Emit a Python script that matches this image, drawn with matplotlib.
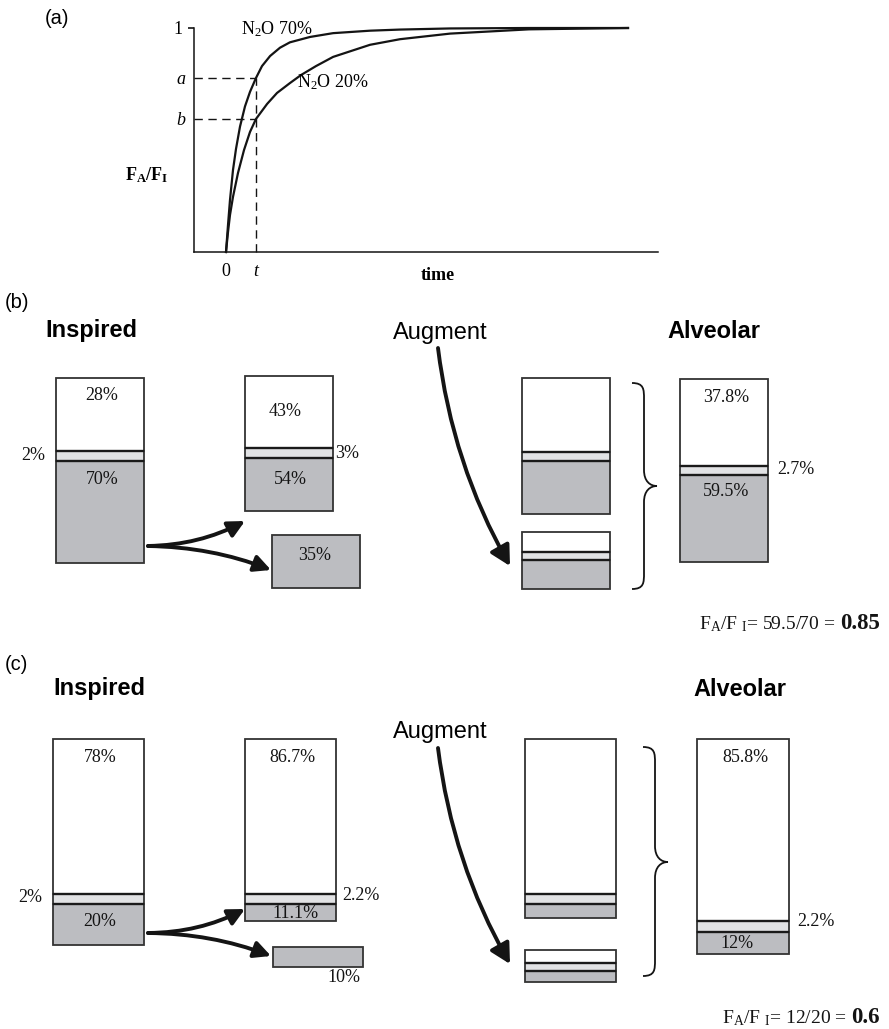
import matplotlib
matplotlib.use('Agg')
import matplotlib.pyplot as plt
from matplotlib.patches import FancyArrowPatch, PathPatch
from matplotlib.path import Path

# ---------------- data ----------------
# panel (a): uptake curves F_A/F_I vs time (time in units of t)
time_70 = [0, 0.067, 0.133, 0.233, 0.333, 0.467, 0.633, 0.8, 1.0, 1.2, 1.47, 1.8,
           2.13, 2.8, 3.57, 4.8, 5.8, 7.47, 10.1, 13.4]
ratio_70 = [0, 0.121, 0.232, 0.366, 0.46, 0.56, 0.65, 0.715, 0.777, 0.83, 0.875, 0.912,
            0.936, 0.96, 0.977, 0.988, 0.993, 0.998, 1.0, 1.0]
time_20 = [0, 0.067, 0.133, 0.233, 0.4, 0.6, 0.8, 1.0, 1.37, 1.7, 2.13, 2.5, 3.0, 3.57,
           4.8, 5.8, 7.47, 10.1, 13.4]
ratio_20 = [0, 0.089, 0.165, 0.246, 0.353, 0.455, 0.536, 0.594, 0.661, 0.71, 0.754,
            0.79, 0.83, 0.871, 0.925, 0.95, 0.975, 0.994, 1.0]
level_a = 0.777
level_b = 0.594
time_t = 1.0
curve_labels = [r"N$_\mathrm{2}$O 70%", r"N$_\mathrm{2}$O 20%"]

# stacked boxes: segments are [O2 (white), agent (light), N2O (dark)]
b_inspired_pct = ["28%", "2%", "70%"]
b_inspired_seg = [73, 10, 102]
b_after_pct = ["43%", "3%", "54%"]
b_after_seg = [72, 10, 53]
b_uptake_pct = ["35%"]
b_uptake_seg = [53]
b_aug_top_seg = [74, 9, 53]
b_aug_small_seg = [20, 8, 29]
b_alveolar_pct = ["37.8%", "2.7%", "59.5%"]
b_alveolar_seg = [87, 9, 87]
b_formula = (r"F$_\mathrm{A}$/F $_\mathrm{I}$= 59.5/70 =", "0.85")

c_inspired_pct = ["78%", "2%", "20%"]
c_inspired_seg = [155, 10, 41]
c_after_pct = ["86.7%", "2.2%", "11.1%"]
c_after_seg = [155, 10, 17]
c_uptake_pct = ["10%"]
c_uptake_seg = [20]
c_aug_top_seg = [155, 10, 14]
c_aug_small_seg = [13, 8, 11]
c_alveolar_pct = ["85.8%", "2.2%", "12%"]
c_alveolar_seg = [182, 11, 22]
c_formula = (r"F$_\mathrm{A}$/F $_\mathrm{I}$= 12/20 =", "0.6")

# ---------------- style ----------------
plt.rcParams['font.family'] = ['Liberation Serif', 'DejaVu Serif']
plt.rcParams['mathtext.fontset'] = 'custom'
plt.rcParams['mathtext.rm'] = 'Liberation Serif'
plt.rcParams['mathtext.it'] = 'Liberation Serif:italic'
plt.rcParams['mathtext.bf'] = 'Liberation Serif:bold'
SANS = ['Liberation Sans', 'DejaVu Sans']
SEG_COLORS = ['#ffffff', '#e1e2e4', '#bcbdc1']
EDGE = '#333333'
INK = '#141414'

W, H = 889, 1029
fig = plt.figure(figsize=(W / 100, H / 100), dpi=100)
ov = fig.add_axes([0, 0, 1, 1])
ov.set_xlim(0, W)
ov.set_ylim(H, 0)
ov.axis('off')

# ---------------- panel (a) ----------------
axa = fig.add_axes([194 / W, (H - 252) / H, 464 / W, 224 / H])
axa.set_facecolor('none')
axa.set_xlim(-32 / 30, 432 / 30)
axa.set_ylim(0, 1)
for s in ['top', 'right']:
    axa.spines[s].set_visible(False)
for s in ['left', 'bottom']:
    axa.spines[s].set_linewidth(1.1)
    axa.spines[s].set_color(INK)
axa.plot(time_70, ratio_70, color=INK, lw=1.6, clip_on=False, solid_joinstyle='round')
axa.plot(time_20, ratio_20, color=INK, lw=1.6, clip_on=False, solid_joinstyle='round')
x0 = axa.get_xlim()[0]
dash = dict(color=INK, lw=1.0, linestyle=(0, (6, 4)), clip_on=False)
axa.plot([x0, time_t], [level_a, level_a], **dash)
axa.plot([x0, time_t], [level_b, level_b], **dash)
axa.plot([time_t, time_t], [0, level_a], **dash)

axa.set_yticks([1])
axa.set_yticklabels(['1'])
axa.set_yticks([level_b, level_a], minor=True)
axa.set_yticklabels(['b', 'a'], minor=True, fontstyle='italic')
axa.tick_params(axis='y', which='major', length=4.3, width=1.1, pad=4.0, labelsize=13)
axa.tick_params(axis='y', which='minor', length=0, pad=6.5, labelsize=13)
axa.set_xticks([0, time_t])
axa.set_xticklabels(['0', 't'])
axa.get_xticklabels()[1].set_fontstyle('italic')
axa.tick_params(axis='x', length=0, pad=8, labelsize=13)
axa.set_ylabel(r'$\mathbf{F}_\mathbf{A}\mathbf{/F}_\mathbf{I}$', rotation=0,
               fontsize=13, va='center', ha='center')
axa.yaxis.set_label_coords((147 - 194) / 464, (252 - 175) / 224)
axa.set_xlabel('time', fontweight='bold', fontsize=13, va='center')
axa.xaxis.set_label_coords((438 - 194) / 464, (252 - 275) / 224)
axa.text(0.5, 0.996, curve_labels[0], fontsize=13, va='center', ha='left')
axa.text(2.37, 0.759, curve_labels[1], fontsize=13, va='center', ha='left')

ov.text(45, 18, '(a)', fontsize=14.5, family=SANS, va='center', ha='left')


# ---------------- helpers ----------------
def stack(left, top, width, segs, colors=SEG_COLORS):
    y = top
    for i, (h, c) in enumerate(zip(segs, colors)):
        ov.bar([left], [h], bottom=[y], width=width, align='edge', color=c,
               edgecolor=EDGE, linewidth=1.3, zorder=2)
        if i > 0:
            ov.hlines(y, left, left + width, color='#1a1a1a', lw=1.7, zorder=2.5)
        y += h


def label(x, y, s, ha='center', size=13):
    ov.text(x, y, s, fontsize=size, ha=ha, va='center', zorder=4, color=INK)


def arrow(p0, p1, rad, hl, hw, lw):
    ap = FancyArrowPatch(p0, p1, connectionstyle=f'arc3,rad={rad}',
                         arrowstyle=f'-|>,head_length={hl},head_width={hw}',
                         mutation_scale=20, lw=lw, color=INK,
                         shrinkA=0, shrinkB=0, zorder=3)
    ov.add_patch(ap)


def brace(x0, x1, y0, y1, ym):
    xm = x0 + 12
    r = 16
    M, L, C = Path.MOVETO, Path.LINETO, Path.CURVE4
    verts = [(x0, y0), (xm, y0), (xm, y0 + r * 0.4), (xm, y0 + r),
             (xm, ym - r),
             (xm, ym - r * 0.3), (x1 - 7, ym), (x1, ym),
             (x1 - 7, ym), (xm, ym + r * 0.3), (xm, ym + r),
             (xm, y1 - r),
             (xm, y1 - r * 0.4), (xm, y1), (x0, y1)]
    codes = [M, C, C, C, L, C, C, C, C, C, C, L, C, C, C]
    ov.add_patch(PathPatch(Path(verts, codes), fill=False, lw=1.3, edgecolor=INK))


renderer = fig.canvas.get_renderer()


def formula(parts, right, baseline):
    bold = ov.text(right, baseline, parts[1], fontsize=16.5, fontweight='bold',
                   ha='right', va='baseline', color=INK)
    bb = bold.get_window_extent(renderer=renderer)
    left_px = bb.x0 - 5
    ov.text(left_px, baseline, parts[0], fontsize=14, ha='right', va='baseline', color=INK)


# ---------------- panel (b) ----------------
ov.text(5, 302, '(b)', fontsize=14.5, family=SANS, va='center', ha='left')
ov.text(45, 330, 'Inspired', fontsize=17, family=SANS, fontweight='bold', va='center')
ov.text(393, 333, 'Augment', fontsize=17, family=SANS, va='center')
ov.text(667, 331, 'Alveolar', fontsize=17, family=SANS, fontweight='bold', va='center')

stack(56, 378, 88, b_inspired_seg)
stack(245, 376, 88, b_after_seg)
stack(272, 535, 88, b_uptake_seg, colors=SEG_COLORS[2:])
stack(522, 378, 88, b_aug_top_seg)
stack(522, 532, 88, b_aug_small_seg)
stack(680, 379, 88, b_alveolar_seg)

label(102, 395, b_inspired_pct[0])
label(45, 456, b_inspired_pct[1], ha='right')
label(102, 479, b_inspired_pct[2])
label(285, 412, b_after_pct[0])
label(335, 453, b_after_pct[1], ha='left')
label(290, 479, b_after_pct[2])
label(315, 555, b_uptake_pct[0])
label(726, 397, b_alveolar_pct[0])
label(777, 470, b_alveolar_pct[1], ha='left')
label(726, 492, b_alveolar_pct[2])

arrow((148, 546), (245, 521), 0.12, 0.5, 0.25, 2.8)
arrow((148, 546), (271, 570), -0.09, 0.5, 0.25, 2.8)
arrow((438, 348), (510, 566), 0.1, 0.6, 0.32, 2.8)
brace(632, 657, 383, 589, 486)

formula(b_formula, 880, 629)

# ---------------- panel (c) ----------------
ov.text(5, 665, '(c)', fontsize=14.5, family=SANS, va='center', ha='left')
ov.text(53, 689, 'Inspired', fontsize=17, family=SANS, fontweight='bold', va='center')
ov.text(393, 732, 'Augment', fontsize=17, family=SANS, va='center')
ov.text(693, 690, 'Alveolar', fontsize=17, family=SANS, fontweight='bold', va='center')

stack(53, 739, 91, c_inspired_seg)
stack(245, 739, 91, c_after_seg)
stack(273, 947, 90, c_uptake_seg, colors=SEG_COLORS[2:])
stack(525, 739, 91, c_aug_top_seg)
stack(525, 950, 91, c_aug_small_seg)
stack(697, 739, 92, c_alveolar_seg)

label(100, 757, c_inspired_pct[0])
label(42, 898, c_inspired_pct[1], ha='right')
label(100, 922, c_inspired_pct[2])
label(292, 757, c_after_pct[0])
label(342, 896, c_after_pct[1], ha='left')
label(295, 913, c_after_pct[2])
label(344, 978, c_uptake_pct[0])
label(745, 757, c_alveolar_pct[0])
label(797, 922, c_alveolar_pct[1], ha='left')
label(737, 943, c_alveolar_pct[2])

arrow((148, 933), (245, 909), 0.12, 0.5, 0.25, 2.8)
arrow((148, 933), (271, 956), -0.09, 0.5, 0.25, 2.8)
arrow((438, 748), (510, 964), 0.1, 0.6, 0.32, 2.8)
brace(643, 668, 747, 976, 862)

formula(c_formula, 880, 1023)

fig.savefig('out.png', dpi=100, facecolor='white')
